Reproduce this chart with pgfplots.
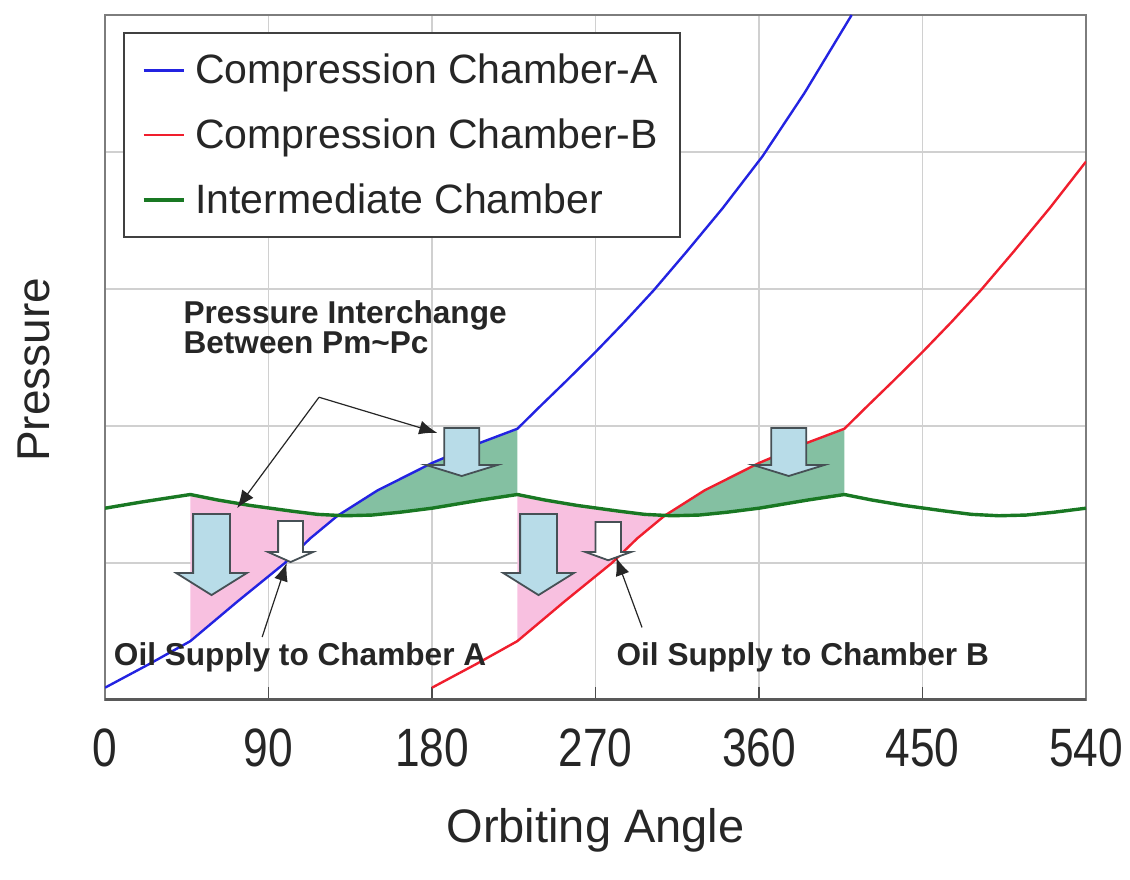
\documentclass[border=0pt]{standalone}
\usepackage{fontspec}
\setmainfont{Liberation Sans}
\newfontfamily\ticksfont[FakeStretch=0.82]{Liberation Sans}
\usepackage{pgfplots}
\usepackage{pgfplotstable}
\pgfplotsset{compat=1.18}
\usepgfplotslibrary{fillbetween}
\usetikzlibrary{arrows.meta}

\definecolor{chamberA}{RGB}{35,35,225}
\definecolor{chamberB}{RGB}{240,30,45}
\definecolor{interm}{RGB}{25,120,35}
\definecolor{oilpink}{RGB}{248,192,224}
\definecolor{gasgreen}{RGB}{132,192,162}
\definecolor{arrowblue}{RGB}{184,220,232}
\definecolor{arrowedge}{RGB}{70,80,85}
\definecolor{gridgray}{RGB}{208,208,208}
\definecolor{framegray}{RGB}{125,125,125}

% Compression chamber A pressure vs. orbiting angle
\pgfplotstableread{
ang p
0   0.09
24  0.26
47  0.43
73  0.72
99  1.00
113 1.18
128 1.345
150 1.53
180 1.73
205 1.87
227 1.98
240 2.15
254 2.33
270 2.54
286 2.76
302 2.99
320 3.27
340 3.59
362 3.97
385 4.43
411 5.00
}\chamberAdata

% Compression chamber B (180 deg behind A)
\pgfplotstableread{
ang p
180 0.09
204 0.26
227 0.43
253 0.72
279 1.00
293 1.18
308 1.345
330 1.53
360 1.73
385 1.87
407 1.98
420 2.15
434 2.33
450 2.54
466 2.76
482 2.99
500 3.27
520 3.59
540 3.93
}\chamberBdata

% Intermediate (back-pressure) chamber
\pgfplotstableread{
ang p
0   1.40
20  1.445
47  1.50
62  1.46
80  1.42
102 1.38
117 1.355
132 1.345
147 1.35
162 1.37
180 1.40
207 1.46
227 1.50
242 1.46
260 1.42
282 1.38
297 1.355
312 1.345
327 1.35
342 1.37
360 1.40
387 1.46
407 1.50
422 1.46
440 1.42
462 1.38
477 1.355
492 1.345
507 1.35
522 1.37
540 1.40
}\intermdata

\tikzset{
  blockarrow/.style={fill=arrowblue, draw=arrowedge, line width=0.9pt, line join=miter},
  hollowarrow/.style={fill=white, draw=arrowedge, line width=0.9pt, line join=miter},
  callout/.style={draw=black!85, line width=0.6pt, -{Latex[length=9pt,width=7pt]}},
  annot/.style={font=\bfseries\fontsize{15.8}{18}\selectfont, text=black!85, inner sep=0pt},
}

\begin{document}
\begin{tikzpicture}
\begin{axis}[
  scale only axis, width=490.5pt, height=342.5pt,
  xmin=0, xmax=540, ymin=0, ymax=5,
  xtick={0,90,...,540}, ytick={1,2,3,4}, yticklabels={},
  grid=major, major grid style={gridgray, line width=0.8pt},
  axis line style={framegray, line width=1pt},
  xtick pos=left, tick align=inside, major tick length=6.5pt,
  xtick style={black!70, line width=0.9pt},
  ytick style={draw=none},
  /pgf/number format/assume math mode=true,
  xticklabel style={font=\ticksfont\fontsize{27}{27}\selectfont, text=black!85, anchor=center, yshift=-24pt},
  xlabel={Orbiting Angle},
  xlabel style={font=\fontsize{23.5}{26}\selectfont, text=black!85, at={(axis description cs:0.5,-0.1898)}, anchor=center},
  ylabel={Pressure},
  ylabel style={font=\fontsize{23}{26}\selectfont, text=black!85, at={(axis description cs:-0.0724,0.482)}, anchor=center},
  legend style={at={(0.0183,0.975)}, anchor=north west, draw=black!75, line width=1pt,
    fill=white, font=\fontsize{20.5}{24}\selectfont, text=black!85,
    inner xsep=9pt, inner ysep=10.5pt, row sep=16pt,
    nodes={inner xsep=2pt, inner ysep=0pt},
    /tikz/every odd column/.append style={column sep=3pt}},
  legend cell align=left,
  legend image code/.code={\draw[#1] (0pt,0pt) -- (20pt,0pt);},
]
\coordinate (SW) at (rel axis cs:0,0);
\coordinate (NE) at (rel axis cs:1,1);

% curve paths used for the shaded regions
\addplot[draw=none, forget plot, name path=A] table[x=ang, y=p] {\chamberAdata};
\addplot[draw=none, forget plot, name path=B] table[x=ang, y=p] {\chamberBdata};
\addplot[draw=none, forget plot, name path=G] table[x=ang, y=p] {\intermdata};

% oil supply (pink) and gas leak-back (green) regions
\addplot[oilpink, forget plot] fill between[of=G and A, soft clip={domain=47:128}];
\addplot[gasgreen, forget plot] fill between[of=A and G, soft clip={domain=128:227}];
\addplot[oilpink, forget plot] fill between[of=G and B, soft clip={domain=227:308}];
\addplot[gasgreen, forget plot] fill between[of=B and G, soft clip={domain=308:407}];

% pressure curves
\addplot[chamberA, line width=1.2pt] table[x=ang, y=p] {\chamberAdata};
\addlegendentry{Compression Chamber-A}
\addplot[chamberB, line width=1.2pt] table[x=ang, y=p] {\chamberBdata};
\addlegendentry{Compression Chamber-B}
\addplot[interm, line width=1.7pt] table[x=ang, y=p] {\intermdata};
\addlegendentry{Intermediate Chamber}

% block arrows: large ones for pressure interchange, hollow ones for oil supply
\draw[blockarrow] (axis cs:48.5,1.358) -- (axis cs:68.8,1.358) -- (axis cs:68.8,0.927)
  -- (axis cs:78.1,0.927) -- (axis cs:58.65,0.766) -- (axis cs:39.2,0.927)
  -- (axis cs:48.5,0.927) -- cycle;
\draw[blockarrow] (axis cs:228.5,1.358) -- (axis cs:248.8,1.358) -- (axis cs:248.8,0.927)
  -- (axis cs:258.1,0.927) -- (axis cs:238.65,0.766) -- (axis cs:219.2,0.927)
  -- (axis cs:228.5,0.927) -- cycle;
\draw[blockarrow] (axis cs:186.7,1.985) -- (axis cs:206,1.985) -- (axis cs:206,1.715)
  -- (axis cs:215.9,1.715) -- (axis cs:196.35,1.635) -- (axis cs:176.8,1.715)
  -- (axis cs:186.7,1.715) -- cycle;
\draw[blockarrow] (axis cs:366.7,1.985) -- (axis cs:386,1.985) -- (axis cs:386,1.715)
  -- (axis cs:395.9,1.715) -- (axis cs:376.35,1.635) -- (axis cs:356.8,1.715)
  -- (axis cs:366.7,1.715) -- cycle;
\draw[hollowarrow] (axis cs:95.3,1.307) -- (axis cs:109,1.307) -- (axis cs:109,1.08)
  -- (axis cs:114.5,1.08) -- (axis cs:102.15,1.007) -- (axis cs:89.8,1.08)
  -- (axis cs:95.3,1.08) -- cycle;
\draw[hollowarrow] (axis cs:270,1.30) -- (axis cs:284,1.30) -- (axis cs:284,1.08)
  -- (axis cs:289.5,1.08) -- (axis cs:277,1.02) -- (axis cs:264.5,1.08)
  -- (axis cs:270,1.08) -- cycle;

% callouts
\draw[callout] (axis cs:117.8,2.21) -- (axis cs:72.7,1.40);
\draw[callout] (axis cs:117.8,2.21) -- (axis cs:182.9,1.95);
\draw[callout] (axis cs:86.5,0.46) -- (axis cs:100,1.0);
\draw[callout] (axis cs:295.6,0.53) -- (axis cs:281.4,1.04);

\node[annot, anchor=base west] at (axis cs:43,2.745) {Pressure Interchange};
\node[annot, anchor=base west] at (axis cs:43,2.526) {Between Pm\textasciitilde Pc};
\node[annot, anchor=base west] at (axis cs:4.7,0.255) {Oil Supply to Chamber A};
\node[annot, anchor=base west] at (axis cs:281.4,0.255) {Oil Supply to Chamber B};

% heavier baseline along the angle axis
\draw[black!65, line width=1.6pt] (rel axis cs:0,0) -- (rel axis cs:1,0);
\end{axis}
\pgfresetboundingbox
\path ([shift={(-52.5pt,-89.5pt)}]SW) rectangle ([shift={(22pt,7.5pt)}]NE);
\end{tikzpicture}
\end{document}
